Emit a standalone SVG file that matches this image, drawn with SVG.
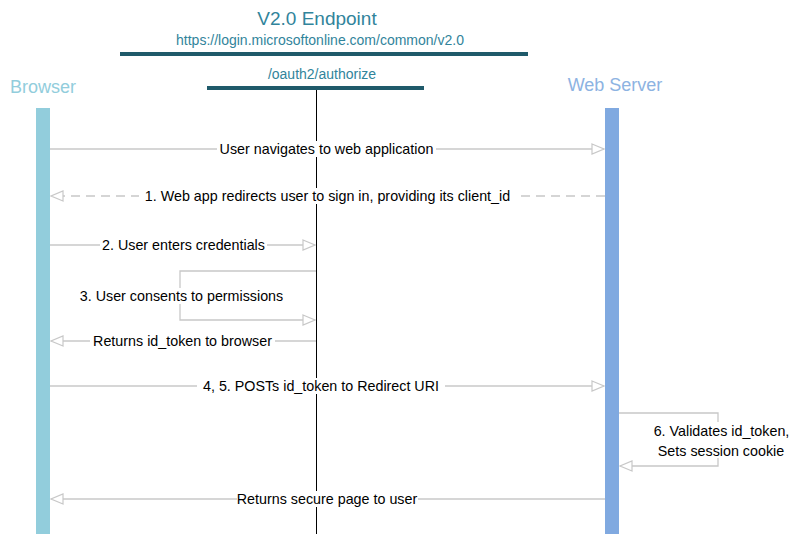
<svg xmlns="http://www.w3.org/2000/svg" width="809" height="534" viewBox="0 0 809 534">
<style>
.msg{stroke:#c8c8c8;stroke-width:1.3;fill:none}
.dash{stroke-dasharray:9 6}
.lbl{font-family:"Liberation Sans",Arial,sans-serif;font-size:14.3px;fill:#000;text-anchor:middle}
.bg{fill:#fff}
.bar{fill:#1f5a6a}
.ttl{font-family:"Liberation Sans",Arial,sans-serif;text-anchor:middle}
</style>
<defs>
<marker id="ah" markerWidth="14" markerHeight="12" refX="13" refY="6" orient="auto" markerUnits="userSpaceOnUse">
<path d="M1,1 L13,6 L1,11 Z" fill="#fff" stroke="#c8c8c8" stroke-width="1.2"/>
</marker>
</defs>
<rect width="809" height="534" fill="#fff"/>
<g id="endpoint">
<text class="ttl" x="317" y="25" style="font-size:19px;fill:#31849b">V2.0 Endpoint</text>
<text class="ttl" x="320" y="45" style="font-size:14px;fill:#31849b">https://login.microsoftonline.com/common/v2.0</text>
<rect class="bar" x="120" y="52" width="408" height="4"/>
</g>
<g id="authorize">
<text class="ttl" x="322" y="79" style="font-size:14px;fill:#31849b">/oauth2/authorize</text>
<rect class="bar" x="207" y="86" width="217" height="4"/>
<line x1="316.5" y1="90" x2="316.5" y2="534" stroke="#000" stroke-width="1"/>
</g>
<g id="browser">
<text class="ttl" x="43" y="93" style="font-size:18px;fill:#92cddc">Browser</text>
<rect x="36" y="108" width="14" height="426" fill="#92cddc"/>
</g>
<g id="webserver">
<text class="ttl" x="615" y="91" style="font-size:18px;fill:#8db3e2">Web Server</text>
<rect x="605" y="108" width="14" height="426" fill="#80a9e0"/>
</g>
<g id="connectors">
<line class="msg" x1="50" y1="149" x2="604" y2="149" marker-end="url(#ah)"/>
<rect class="bg" x="217" y="141" width="219" height="16"/>
<text class="lbl" x="326.5" y="154">User navigates to web application</text>

<line class="msg dash" x1="605" y1="196" x2="51" y2="196" marker-end="url(#ah)"/>
<rect class="bg" x="139" y="188" width="377" height="16"/>
<text class="lbl" x="327.5" y="201">1. Web app redirects user to sign in, providing its client_id</text>

<line class="msg" x1="50" y1="245" x2="315" y2="245" marker-end="url(#ah)"/>
<rect class="bg" x="100" y="237" width="167" height="16"/>
<text class="lbl" x="183.5" y="250">2. User enters credentials</text>

<polyline class="msg" points="316,271 180,271 180,320 315,320" marker-end="url(#ah)"/>
<rect class="bg" x="78" y="288" width="207" height="16"/>
<text class="lbl" x="181.5" y="301">3. User consents to permissions</text>

<line class="msg" x1="316" y1="341" x2="51" y2="341" marker-end="url(#ah)"/>
<rect class="bg" x="90" y="333" width="185" height="16"/>
<text class="lbl" x="182.5" y="346">Returns id_token to browser</text>

<line class="msg" x1="50" y1="386" x2="604" y2="386" marker-end="url(#ah)"/>
<rect class="bg" x="197" y="378" width="248" height="16"/>
<text class="lbl" x="321" y="391">4, 5. POSTs id_token to Redirect URI</text>

<polyline class="msg" points="619,413 718,413 718,466 620,466" marker-end="url(#ah)"/>
<rect class="bg" x="651" y="422" width="141" height="36"/>
<text class="lbl" x="721.5" y="436">6. Validates id_token,</text>
<text class="lbl" x="721" y="456">Sets session cookie</text>

<line class="msg" x1="605" y1="499" x2="51" y2="499" marker-end="url(#ah)"/>
<rect class="bg" x="237" y="491" width="181" height="16"/>
<text class="lbl" x="327" y="504">Returns secure page to user</text>
</g>
</svg>
